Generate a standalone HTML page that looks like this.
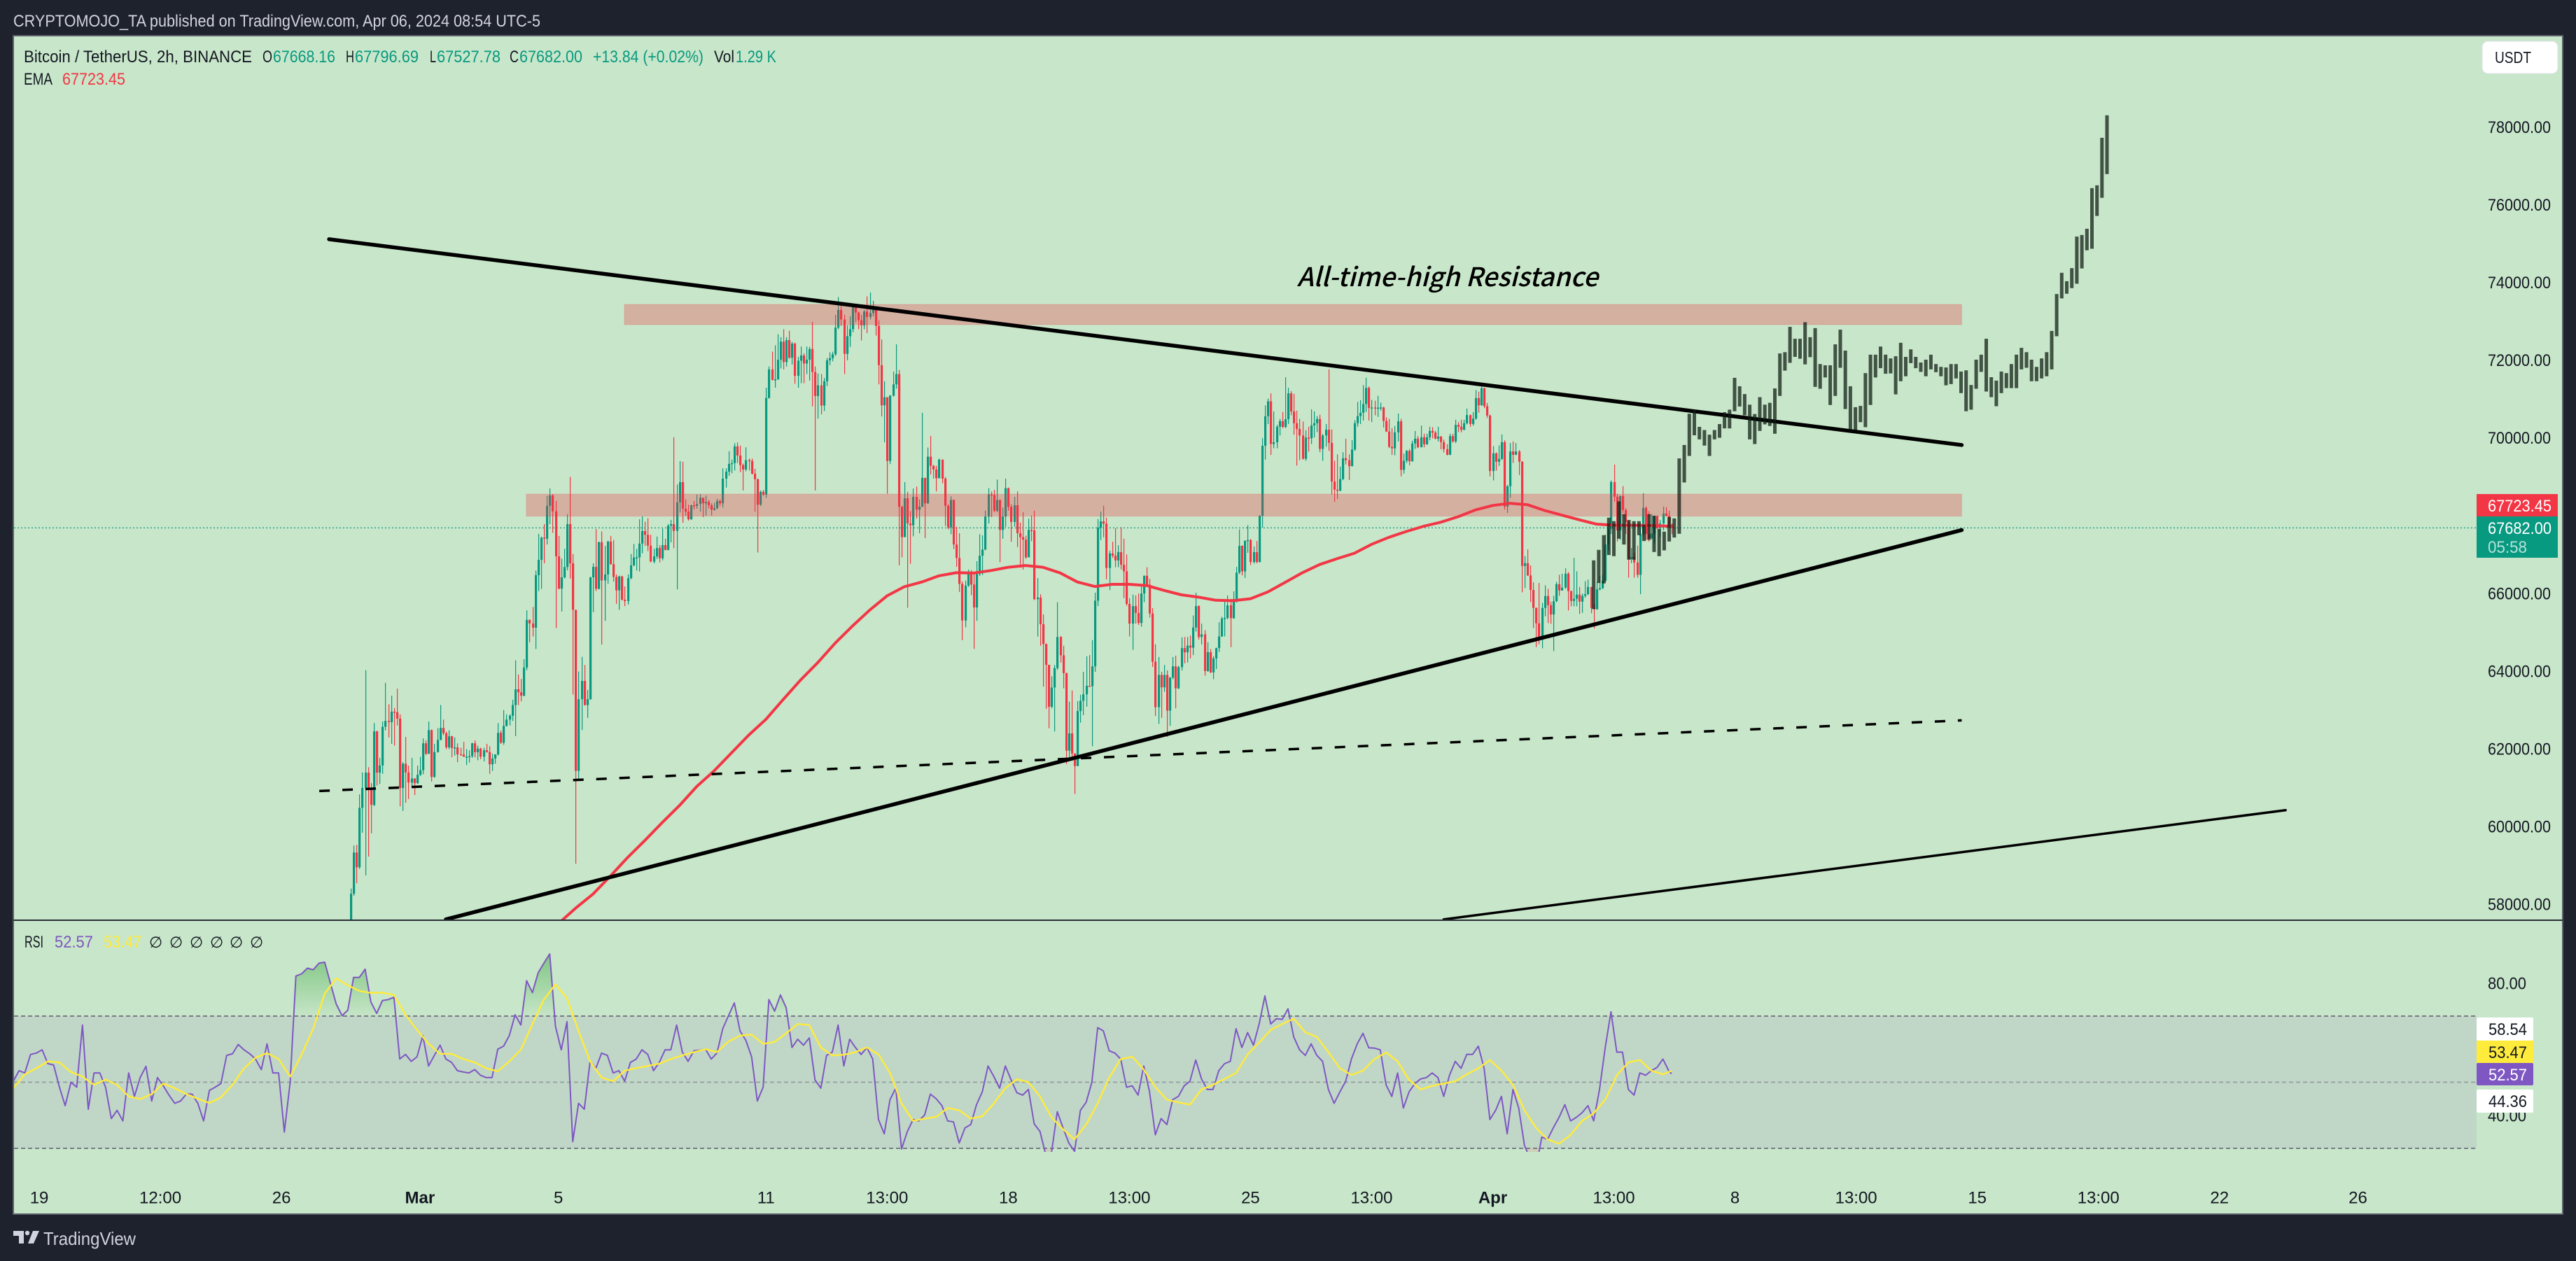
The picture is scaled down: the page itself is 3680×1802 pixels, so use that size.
<!DOCTYPE html>
<html lang="en">
<head>
<meta charset="utf-8">
<title>BTC/USDT 2h chart</title>
<style>
html,body{margin:0;padding:0;background:#1e222d;}
svg{display:block;font-family:"Liberation Sans",sans-serif;}
</style>
</head>
<body>
<svg id="root" xmlns="http://www.w3.org/2000/svg" width="3680" height="1802" viewBox="0 0 3680 1802">
  <defs>
    <clipPath id="pricePane"><rect x="20" y="52" width="3640" height="1263"/></clipPath>
    <clipPath id="rsiPane"><rect x="20" y="1316" width="3640" height="330"/></clipPath>
    <clipPath id="rsiAbove"><rect x="20" y="1316" width="3518" height="136"/></clipPath>
    <clipPath id="rsiBelow"><rect x="20" y="1641" width="3518" height="90"/></clipPath>
    <linearGradient id="obGrad" gradientUnits="userSpaceOnUse" x1="0" y1="1360" x2="0" y2="1452">
      <stop offset="0" stop-color="#4caf50" stop-opacity="0.6"/>
      <stop offset="1" stop-color="#4caf50" stop-opacity="0.02"/>
    </linearGradient>
  </defs>
  <rect width="3680" height="1802" fill="#1e222d"/>
  <text x="19" y="38" font-size="24" fill="#d1d4dc" textLength="753" lengthAdjust="spacingAndGlyphs">CRYPTOMOJO_TA published on TradingView.com, Apr 06, 2024 08:54 UTC-5</text>
  <rect x="19" y="51" width="3642" height="1684" fill="#c8e6c9" stroke="#5d606b" stroke-width="2"/>
  <g id="band"></g>
  <g id="candles" clip-path="url(#pricePane)"></g>
  <g id="ema" clip-path="url(#pricePane)"></g>
  <g id="zones"></g>
  <g id="draw" clip-path="url(#pricePane)"></g>
  <g id="proj" clip-path="url(#pricePane)"></g>
  <g id="rsi" clip-path="url(#rsiPane)"></g>
  <rect x="19" y="1314" width="3642" height="2" fill="#2a2e39"/>
  <text x="1853" y="409" font-size="37" font-weight="500" font-style="italic" fill="#000" font-family="'Noto Sans CJK JP','Liberation Sans',sans-serif" textLength="430" lengthAdjust="spacingAndGlyphs">All-time-high Resistance</text>

  <g font-size="24">
    <text x="34" y="89" fill="#131722" textLength="326" lengthAdjust="spacingAndGlyphs">Bitcoin / TetherUS, 2h, BINANCE</text>
    <text x="375" y="89" fill="#131722" textLength="14" lengthAdjust="spacingAndGlyphs">O</text>
    <text x="390" y="89" fill="#089981" textLength="89" lengthAdjust="spacingAndGlyphs">67668.16</text>
    <text x="494" y="89" fill="#131722" textLength="12" lengthAdjust="spacingAndGlyphs">H</text>
    <text x="507" y="89" fill="#089981" textLength="91" lengthAdjust="spacingAndGlyphs">67796.69</text>
    <text x="614" y="89" fill="#131722" textLength="9" lengthAdjust="spacingAndGlyphs">L</text>
    <text x="624" y="89" fill="#089981" textLength="91" lengthAdjust="spacingAndGlyphs">67527.78</text>
    <text x="728" y="89" fill="#131722" textLength="13" lengthAdjust="spacingAndGlyphs">C</text>
    <text x="742" y="89" fill="#089981" textLength="90" lengthAdjust="spacingAndGlyphs">67682.00</text>
    <text x="847" y="89" fill="#089981" textLength="158" lengthAdjust="spacingAndGlyphs">+13.84 (+0.02%)</text>
    <text x="1020" y="89" fill="#131722" textLength="29" lengthAdjust="spacingAndGlyphs">Vol</text>
    <text x="1051" y="89" fill="#089981" textLength="58" lengthAdjust="spacingAndGlyphs">1.29 K</text>
    <text x="34" y="121" fill="#131722" textLength="41" lengthAdjust="spacingAndGlyphs">EMA</text>
    <text x="89" y="121" fill="#f23645" textLength="90" lengthAdjust="spacingAndGlyphs">67723.45</text>
  </g>

  <g font-size="24">
    <text x="35" y="1354" fill="#131722" textLength="27" lengthAdjust="spacingAndGlyphs">RSI</text>
    <text x="78" y="1354" fill="#7e57c2" textLength="55" lengthAdjust="spacingAndGlyphs">52.57</text>
    <text x="148" y="1354" fill="#ffeb3b" textLength="54" lengthAdjust="spacingAndGlyphs">53.47</text>
    <g fill="#131722" font-size="22" font-family="'DejaVu Sans',sans-serif">
      <text x="213" y="1354">∅</text><text x="242" y="1354">∅</text><text x="271" y="1354">∅</text><text x="300" y="1354">∅</text><text x="328" y="1354">∅</text><text x="357" y="1354">∅</text>
    </g>
  </g>

  <g id="yaxis" font-size="24" fill="#131722"></g>
  <g>
    <rect x="3546" y="59" width="108" height="46" rx="8" fill="#fff" stroke="#e0e3eb"/>
    <text x="3564" y="90" font-size="23" fill="#131722" textLength="52" lengthAdjust="spacingAndGlyphs">USDT</text>
  </g>
  <g>
    <rect x="3538" y="706" width="116" height="32" fill="#f23645"/>
    <text x="3554" y="731" font-size="24" fill="#fff" textLength="91" lengthAdjust="spacingAndGlyphs">67723.45</text>
  </g>
  <g>
    <rect x="3538" y="738" width="116" height="59" fill="#089981"/>
    <text x="3554" y="763" font-size="24" fill="#fff" textLength="91" lengthAdjust="spacingAndGlyphs">67682.00</text>
    <text x="3554" y="790" font-size="24" fill="#fff" fill-opacity="0.7" textLength="56" lengthAdjust="spacingAndGlyphs">05:58</text>
  </g>
  <g font-size="24">
    <rect x="3538" y="1454" width="81" height="33" rx="2" fill="#fff"/>
    <text x="3555" y="1479" fill="#131722" textLength="55" lengthAdjust="spacingAndGlyphs">58.54</text>
    <rect x="3538" y="1487" width="81" height="32" fill="#ffeb3b"/>
    <text x="3555" y="1512" fill="#131722" textLength="55" lengthAdjust="spacingAndGlyphs">53.47</text>
    <rect x="3538" y="1519" width="81" height="32" rx="2" fill="#7e57c2"/>
    <text x="3555" y="1544" fill="#fff" textLength="55" lengthAdjust="spacingAndGlyphs">52.57</text>
    <rect x="3538" y="1557" width="81" height="33" rx="2" fill="#fff"/>
    <text x="3555" y="1582" fill="#131722" textLength="55" lengthAdjust="spacingAndGlyphs">44.36</text>
  </g>
  <g id="xaxis" font-size="24" fill="#131722"></g>
  <g>
    <path d="M19 1759h15v18h-7v-11h-8zM47 1759h9l-8 18h-8z" fill="#d1d4dc"/>
    <circle cx="39" cy="1762" r="3.2" fill="#d1d4dc"/>
    <text x="62" y="1779" font-size="26" fill="#d1d4dc" textLength="132" lengthAdjust="spacingAndGlyphs">TradingView</text>
  </g>
</svg>

<script>
// ---- price pane data (2h bars, open = previous close) ----
var firstOpen = 56500;
var closes = [
58270,59330,58950,60480,60990,61385,60945,60555,62445,61385,
61570,62565,62715,62685,62955,62940,62775,60990,61615,61390,
61130,61235,61115,61330,61450,62140,61870,62480,61275,61915,
62230,62535,62400,62035,62320,62020,62035,61855,61850,61795,
61795,61810,62140,61910,62005,61795,61960,61915,61600,61750,
61855,62410,62155,62590,62750,62850,63125,63530,63455,63365,
64090,65315,65225,65115,66465,66860,67430,67405,68250,68520,
68110,66950,66120,66410,66675,67780,66770,65575,61430,63275,
63745,63125,63275,66410,66680,66115,67315,66330,66485,67330,
66750,66420,66075,66435,65835,65800,66390,66720,66920,66925,
67280,67600,67505,67225,66815,66950,67165,66900,67240,67115,
67740,67780,67605,68340,68860,68175,68100,67905,68265,68250,
68295,68459,
68315,68350,68265,68150,68190,68375,68315,68950,69130,69330,
69350,69780,69545,69300,69185,69425,69405,69075,68935,68280,
68610,68540,71025,71760,71490,71505,72010,72475,71950,72515,
72060,72425,71595,71985,72120,71910,72010,72285,71695,71075,
71350,70830,71455,71995,72050,72150,72835,73290,73045,72160,
72615,72795,73360,73225,73025,72895,73250,73110,73210,73335,
72880,71870,70835,71045,69405,71085,71375,71640,68225,67445,
68445,67795,67750,68480,68150,68230,68970,68315,69515,69280,
69185,68960,69440,68950,68250,67695,68400,67255,66910,66240,
65300,66200,66555,66225,65635,66495,66965,67125,67975,68545,
68530,68125,68400,67630,67975,68705,68225,67835,68265,67545,
67445,67380,66925,67630,67620,65850,65890,65205,64695,64160,
63080,63575,64075,64875,64405,63945,
61950,62395,61880,61555,62970,63235,63400,63620,63610,64120,
65810,67690,67850,67790,66650,67025,66970,66845,67060,66735,
66565,65725,65220,65670,65495,65235,65995,66450,66220,65480,
64240,63070,63900,63580,63900,62980,63830,64120,63555,64100,
64590,64480,64655,64600,65120,65670,64875,64945,64000,64485,
63965,64325,64590,64890,65350,65365,65690,65360,65855,66530,
67220,66565,67355,67370,66805,67060,66805,67995,69795,70555,
70940,69840,69885,70285,70430,70280,70480,71145,70680,70375,
70230,70060,69460,70005,69990,70320,70375,70485,69715,70060,
70210,69870,68875,68665,68640,68940,69475,69425,69270,69700,
70375,70560,70645,70870,71285,70770,70780,70775,70775,70780,
70435,70160,69770,69730,70140,70425,69175,69410,69665,
69397,69853,69979,69757,70015,69835,70015,70177,70135,69979,
70033,69889,69709,69565,70045,69907,70333,70285,70207,70375,
70585,70357,70495,71023,70837,71275,70813,70573,69145,69601,
69385,69457,69889,68233,68755,69649,69565,69649,69385,66703,
66775,66457,66085,65623,65227,64885,65623,65929,65695,65455,
65797,66235,66073,66145,66505,66055,65803,65857,65965,65785,
65935,65977,66163,65623,65593,66103,66133,66325,67255,67657,
68863,68485,67615,68503,68143,67825,66883,66937,66793,66475,
67525,68197,67525,67417,67537,67987,67675,67795,68053,67993,
67765,67682];
var highs = [
58404,59510,59525,60825,61390,64020,61525,61115,62660,62465,
61765,62700,63695,63145,63365,63050,63545,62885,61655,62305,
61565,61765,61245,61565,61795,62265,62215,62700,62495,62125,
62530,63125,62750,62440,62475,62335,62290,62140,62025,62175,
61990,61960,62155,62215,62080,62025,62025,62125,62065,61870,
61855,62660,62470,62995,62885,62885,63260,64275,63910,63795,
64305,65560,65330,65650,66585,67530,67460,67780,68505,68700,
68550,68375,67475,66890,67145,68035,68995,67010,65575,63990,
64365,64155,63515,66425,66770,67650,67330,67590,67220,67355,
67475,67370,66485,66455,66450,66175,66485,67010,67270,67145,
67905,67980,67845,67930,67505,67145,67460,67240,67665,67405,
67780,67890,70015,68800,69400,69385,68415,68280,68280,68375,
68540,68550,
68370,68515,68400,68315,68330,68430,68415,69215,69215,69655,
69440,69860,69880,69800,69340,69755,69465,69465,69200,68950,
68645,68660,71290,71835,72215,72380,72665,72590,72795,72590,
72755,72465,72450,72085,72350,72175,72350,72340,72985,71835,
71655,71640,71540,72050,72200,72215,73165,73620,73475,73165,
72895,73125,73375,73390,73250,73170,73290,73640,73740,73525,
73335,73025,72530,71455,71045,71100,71705,72405,71745,68250,
68860,68610,68115,68695,68745,68415,70645,68970,69750,70050,
69300,69280,69465,69440,68990,68290,68495,68415,67710,67545,
66305,66325,66610,66595,66515,66825,67520,67490,68125,68705,
68620,68660,68925,68415,68205,68950,68720,68290,68480,68620,
67820,68085,67480,67920,68000,68125,66390,65975,65455,64710,
64160,63865,64155,65770,64900,64650,
63960,63210,63500,61880,63225,63390,63980,64380,64410,64795,
66015,67910,68100,68255,67945,67095,67325,67675,67235,67700,
67405,67000,65870,65965,65945,65995,66185,66460,66670,66370,
65620,64685,64360,63980,64155,64015,63845,64360,64395,64135,
64865,64875,64875,64910,65430,66015,65690,65220,65050,64740,
64565,64380,64600,65255,65395,65830,65945,65855,66050,66680,
67645,67235,67355,67750,67395,67205,67345,68010,69990,70835,
71010,71145,70680,70335,70490,70665,71560,71285,71200,71130,
70700,70490,70420,70195,70285,70735,70680,70560,70595,70100,
70355,71765,70215,69410,69575,69260,69630,69975,69575,69940,
70455,70925,70970,71355,71545,71320,70975,70955,71080,70905,
70800,70525,70490,70250,70305,70625,70490,69595,69685,
69709,69925,70177,70045,70315,70105,70105,70285,70273,70177,
70285,70045,69955,69835,70105,70105,70465,70405,70465,70465,
70753,70597,70663,71227,71185,71365,71287,70897,70597,69787,
69625,69805,70087,69937,68785,69865,69907,69865,69685,69403,
66955,67129,66715,66283,65635,66265,65755,66205,66115,65785,
65935,66295,66475,66505,66643,66547,66073,66913,66565,66163,
65995,66313,66355,66163,65725,66295,66457,66475,67507,67735,
68905,69313,68557,68515,68755,68185,67885,67165,67045,67225,
67705,68575,68233,68113,68035,68005,68005,67885,68233,68215,
68125,67796];
var lows = [
56700,58220,58540,58910,59840,58740,59225,59825,60525,61055,
61095,61355,62475,62290,62125,62080,62600,60520,60400,60610,
60705,61035,60810,61095,61300,61345,61840,61870,61155,61255,
61900,62215,62350,61990,61990,61780,61825,61655,61825,61795,
61580,61645,61765,61780,61705,61730,61675,61900,61355,61430,
61615,61825,62125,62100,62570,62600,62715,62325,63125,63220,
63350,64020,64740,64890,64565,66060,66115,66770,67255,67780,
67555,65105,66100,65530,66380,66590,66380,63395,59040,61185,
62480,63110,62795,63260,65515,66060,66100,64680,65290,66245,
66735,66300,65725,65575,65815,65670,65710,66360,66695,66585,
66560,67030,67220,67085,66800,66770,66885,66795,66845,67105,
67105,67310,67160,66100,68080,67815,67995,67870,67890,68155,
68175,68100,
67960,68000,68180,68000,68125,68165,68250,68205,68720,69025,
69090,69160,69350,69115,68645,69140,69160,69060,68100,67050,
68250,68510,68455,71010,71475,71290,71490,71785,71760,71835,
72035,71885,71390,71290,71405,71405,71640,71475,70810,68645,
70495,70605,70690,71330,71870,71970,72110,72795,72880,71640,
71995,72340,72715,72975,72795,72505,72795,72695,73045,73125,
72630,71375,70550,69885,68560,69325,71060,71265,66720,66925,
67445,65630,66760,67465,67920,67545,68215,67420,68300,69055,
68950,68620,68960,68830,67735,67645,67520,67135,66680,66035,
64795,65125,66165,65950,64570,65290,66445,66470,67110,67795,
67960,68085,68085,66800,67405,67710,68125,67325,67710,67190,
66660,66610,66885,66925,67340,65825,64885,64650,63600,63025,
62530,63040,62445,64030,64215,63555,
61605,61775,61705,60835,61555,62670,62865,63085,63600,62065,
63980,65670,67370,67440,66360,66080,66910,66670,66670,66615,
65875,65680,64890,64545,65220,65185,65140,65770,66185,65375,
64105,62845,62640,62795,63465,62305,62590,63790,63040,63535,
64015,64200,64220,64325,64410,65015,64810,64685,63880,63980,
63945,63790,64050,64490,64880,64890,65330,64615,65345,65760,
66495,66460,66395,67040,66725,66765,66770,66795,67690,69440,
70355,69560,69730,69730,70060,70250,70250,70355,70580,70080,
69285,69425,69440,69410,69645,69840,70010,70150,69630,69410,
69770,69665,68545,68355,68425,68625,68910,69315,68915,69270,
69665,70285,70355,70445,70665,70445,70405,70580,70540,70700,
70265,70150,69735,69560,69550,69905,69010,69080,69355,
69295,69385,69715,69733,69757,69757,69817,69937,69985,69961,
69907,69703,69625,69547,69553,69877,69865,70147,70141,70195,
70345,70285,70315,70465,70645,70825,70765,70513,69007,68905,
69157,69277,69433,68155,68065,68455,69355,69553,69043,66025,
66133,66445,65773,65107,64615,64687,64585,65407,65233,65215,
64513,65773,65935,66067,66115,65557,65665,65665,65665,65467,
65497,65887,65953,65485,65095,65575,66073,66109,66277,67105,
67525,68353,67333,67375,68065,67525,66403,66775,66403,66403,
65977,67465,67375,67333,67393,67285,67657,67453,67615,67975,
67705,67527];

// EMA sampled every 6 bars, starting at bar 72
var emaFirstBar = 72;
var emaStepBars = 6;
var emaValues = [57500,57900,58260,58720,59200,59640,60100,60540,61030,61430,61890,62350,62760,63270,63770,64220,64720,65160,65570,65935,66170,66290,66450,66530,66520,66585,66670,66715,66670,66525,66290,66175,66230,66230,66200,66075,65960,65900,65820,65810,65860,66035,66280,66530,66740,66890,67030,67260,67440,67590,67723,67830,67970,68145,68260,68315,68280,68130,68010,67890,67780,67753,67750,67745,67730,67723.45];

// Projected bars pattern (high / low)
var projFirstBar = 431;
var projStepBars = 1.745;
var projHighs = [66847,67117,67495,67945,67855,68365,68035,67885,67855,67855,67765,68035,67993,67657,67585,67963,67927,
69470,69816,70620,70724,70282,70201,70081,70201,70354,70660,70724,71544,71327,71126,70853,70612,71046,70853,70901,71271,72171,72204,72855,72549,72549,72975,72589,72823,71898,71866,71866,72405,72783,72244,71327,70788,70821,71665,72139,72139,72348,72139,72043,72099,72445,72083,72276,72083,71938,72011,72139,71898,71826,71810,71898,71898,71705,71737,71359,72011,72139,72549,71560,71472,71705,71665,71898,72139,72316,72204,72011,71826,72043,72204,72750,73699,74246,74029,74366,75178,75219,75379,76425,76497,77719,78298];
var projLows = [65593,66265,66253,66985,66955,67405,67255,66865,66865,67495,67345,67375,67063,66955,67105,67333,67435,
67532,68851,69534,70065,69960,69800,69534,69960,70001,70242,70242,70684,70805,70580,69960,69840,70178,70346,70306,70105,71078,71729,71930,72083,72035,71890,72075,71311,71263,71553,70845,71078,71802,70740,70202,70202,70403,70274,70845,71553,71793,71649,71657,71118,71456,71584,71922,71793,71697,71584,71761,71689,71584,71351,71383,71528,71150,70684,70724,71263,71697,71191,71046,70813,71150,71279,71279,71279,71761,71802,71456,71456,71528,71584,71761,72614,73587,73707,73852,73964,74358,74825,74865,75709,76175,76786];

// Trend lines: [bar, price, bar, price]
var lineDownTrend = [-7.5,75110,558.6,69815];
var lineUpTrend = [33,57610,558.6,67627];
var lineDashed = [-10.9,60913,558.6,62730];
var lineLowerChannel = [379,57610,670.9,60420];
var zoneUpper = [94.9,73433,558.6,72911];
var zoneLower = [60.9,68553,558.6,67984];

// RSI (sampled every 2 bars) and its MA (every 4 bars), starting at bar -117
var rsiFirstBar = -117;
var rsiStepBars = 2;
var maStepBars = 4;
var rsiValues = [
50.3,53.5,52.8,58.4,58.8,59.8,55.6,55.2,48.5,42.9,50,48.5,67.3,41.8,52.8,52.8,48.5,39,41.5,38.3,
52.8,45.7,51.4,54.8,44.3,51.4,48.9,46.1,43.6,44.3,46.4,46.4,43.6,38.3,47.5,48.5,49.6,58.1,58.6,61.4,
59.8,58.6,57,53.8,61.6,52.8,52.8,34.9,50,82.1,82.8,84.5,84,86,86.3,79.8,73.6,70.1,71.8,81.7,
81.7,84.2,74.3,70.8,74.7,75,75.7,57,58.4,56.3,57.7,64.1,54.9,58.1,61.2,57,56,53.5,53.1,52.8,
53.8,52.1,51.4,51.4,60,60.9,64.1,70.4,67.3,80.7,77.1,83.1,86,88.8,66.9,59.8,68.3,32,43.6,41.8,
56.3,54.2,58.8,58.1,52.8,53.5,50.3,56,57,59.8,58.4,53.5,56,59.8,59.8,67.3,59.1,56.3,59.5,59.7,
60,57,58.8,66.2,70.1,74,65.5,62.7,57.7,44.3,48.5,75,71.5,76.4,72.5,60.5,63,61.2,63.4,50.7,
48.2,58.1,59.1,67.3,54.9,63,60.5,58.4,60.5,57,
38.7,34.4,44.7,48.2,29.8,35.1,38.7,38.3,40.1,46.4,45,42.9,38.3,38,31.6,36.2,37.2,43.2,47.1,54.9,
51.7,48.2,54.9,50.7,46.8,46.1,47.8,37.4,35.1,28.1,28.8,41.1,36.2,31.6,29.1,41.5,43.9,50,66.5,65.5,
59.5,58.8,57,48.5,48.9,46.1,54.9,47.1,34.1,39,37.2,44.7,45.7,48.9,50.3,56.7,51,47.8,47.8,53.5,
55.6,56.3,66.2,60.5,65,61.2,67.6,76.1,67.6,69.2,69,72.2,63.7,59.8,58.1,61.6,58.1,56.3,47.8,43.6,
47.1,50.3,57,61.6,64.8,60.4,60.3,59.8,49.2,45.7,52.8,42.2,47.1,49.6,51,51.4,52.8,51.4,45.7,52.1,
56.3,54.2,58.4,58.4,60.9,54.2,38.7,41.5,45.7,34.4,47.8,42.2,30.9,26.7,24.2,33.4,32.7,36.2,39.4,43.2,
38.3,39.4,40.8,42.9,38.3,47.8,60.5,71.3,59.1,59.1,47.8,46.1,52.8,52.1,53.5,54.5,57,53.5,52.57];
var rsiMaValues = [
48.2,52.4,54.2,56.3,56,53.1,51.7,49.2,50.8,49.2,45.7,44.9,46.4,49.6,48.2,46.4,45,43.7,45.4,49.2,
54.2,57.4,58.8,57,51.7,58.4,66.2,76.8,81.4,79.3,77.6,77,77.1,76.4,70.4,65.8,61.6,58.6,58.6,57,
56,54.2,53.3,56.3,59.8,67.6,75,79.6,75.4,65.5,56.3,51.4,50.3,53.5,54.3,54.9,55.6,57,58.1,59.1,
60,59.1,62.3,64.1,64.4,61.6,62.2,64.8,67.6,67.3,60.5,58.1,58.3,59.1,60.5,
58.4,52.8,43.6,38.3,39,39.5,42.2,41.5,39,39.7,43.6,48.2,50.9,50,45.7,39.4,35.8,32.7,37.2,43.6,
51.4,57,57.7,53.8,48.5,44.7,43.9,43.2,47.8,49.2,51,52.8,58.4,62,65.8,67.6,69.2,65.1,63.7,59.1,
54.2,52.2,53.5,57,59,56.3,50.7,47.8,48.9,49.6,50.3,52.4,54.2,56.7,53.5,49.2,41.5,36.2,32.7,31.4,
34.1,38.3,40.6,44.7,52.1,56,56.7,53.5,52.4,53.47];

// Axis labels
var priceTicks = [78000,76000,74000,72000,70000,68000,66000,64000,62000,60000,58000];
var rsiTicks = [80,40];
var rsiLevels = [70,50,30];
var timeLabels = ["19","12:00","26","Mar","5","11","13:00","18","13:00","25","13:00","Apr","13:00","8","13:00","15","13:00","22","26"];
var timeLabelBars = [-108,-66,-24,24,72,144,186,228,270,312,354,396,438,480,522,564,606,648,696];
var lastPrice = 67682;

// ---- axis functions ----
var NS = 'http://www.w3.org/2000/svg';
function xOf(bar){ return 501 + bar * 4.12; }
function yPrice(p){ return 754.4 + (lastPrice - p) * 0.05554; }
function yRsi(r){ return 1546.5 - (r - 50) * 4.725; }
function mk(tag, attrs, parent){
  var el = document.createElementNS(NS, tag);
  for (var k in attrs) el.setAttribute(k, attrs[k]);
  parent.appendChild(el);
  return el;
}
var gBand = document.getElementById('band');
var gCandles = document.getElementById('candles');
var gEma = document.getElementById('ema');
var gZones = document.getElementById('zones');
var gDraw = document.getElementById('draw');
var gProj = document.getElementById('proj');
var gRsi = document.getElementById('rsi');
var gY = document.getElementById('yaxis');
var gX = document.getElementById('xaxis');

// RSI band
var band = mk('rect', {x:20, y:yRsi(70), width:3518, height:yRsi(30)-yRsi(70), fill:'#7e57c2', 'fill-opacity':0.1}, gBand);


rsiLevels.forEach(function(l){
  var ln = mk('line', {x1:20, x2:3538, y1:yRsi(l), y2:yRsi(l), stroke:'#787b86', 'stroke-width':2, 'stroke-dasharray':'6 4', 'stroke-opacity': l===50 ? 0.55 : 1}, gBand);
  
  
});

// Last price line
var pl = mk('line', {x1:20, x2:3538, y1:yPrice(lastPrice), y2:yPrice(lastPrice), stroke:'#089981', 'stroke-width':1.2, 'stroke-dasharray':'2 3'}, gBand);



// Candles
closes.forEach(function(c, i){
  var o = i === 0 ? firstOpen : closes[i-1];
  var up = c >= o;
  var col = up ? '#089981' : '#f23645';
  var x = Math.round(xOf(i));
  var w = mk('rect', {x:x, y:yPrice(highs[i]), width:1.2, height:Math.max(1, yPrice(lows[i])-yPrice(highs[i])), fill:col}, gCandles);
  
  
  var top = Math.max(o, c), bot = Math.min(o, c);
  var b = mk('rect', {x:x-1, y:yPrice(top), width:3.2, height:Math.max(1.5, yPrice(bot)-yPrice(top)), fill:col}, gCandles);
  
  
});

// EMA
function polyPts(vals, first, step, yFn, lastBar){
  return vals.map(function(v, k){
    var bar = Math.min(first + step * k, lastBar);
    return xOf(bar).toFixed(1) + ',' + yFn(v).toFixed(1);
  });
}
var emaLine = mk('polyline', {points:polyPts(emaValues, emaFirstBar, emaStepBars, yPrice, 458).join(' '), fill:'none', stroke:'#f23645', 'stroke-width':4, 'stroke-linejoin':'round', 'stroke-linecap':'round'}, gEma);



// Zones
function zone(z, nm){
  var r = mk('rect', {x:xOf(z[0]), y:yPrice(z[1]), width:xOf(z[2])-xOf(z[0]), height:yPrice(z[3])-yPrice(z[1]), fill:'#f23645', 'fill-opacity':0.3, stroke:'#f23645', 'stroke-opacity':0.12, 'stroke-width':1.5}, gZones);
  
  
}
zone(zoneUpper, 'resistance-zone-upper');
zone(zoneLower, 'resistance-zone-lower');

// Trend lines
function trend(l, w, dash, nm){
  var a = {x1:xOf(l[0]), y1:yPrice(l[1]), x2:xOf(l[2]), y2:yPrice(l[3]), stroke:'#000', 'stroke-width':w, 'stroke-linecap': dash ? 'butt' : 'round'};
  if (dash) a['stroke-dasharray'] = dash;
  var el = mk('line', a, gDraw);
  
  
}
trend(lineDownTrend, 5.5, null, 'descending-trend-line');
trend(lineUpTrend, 5.5, null, 'ascending-trend-line');
trend(lineDashed, 3.5, '15 18', 'dashed-mid-line');
trend(lineLowerChannel, 3.5, null, 'lower-channel-line');

// Projected bars
projHighs.forEach(function(h, j){
  var x = xOf(projFirstBar + j * projStepBars);
  var r = mk('rect', {x:(x-2.5).toFixed(1), y:yPrice(h), width:5, height:yPrice(projLows[j])-yPrice(h), fill:'#0d1a10', 'fill-opacity':0.72}, gProj);
  
  
});

// RSI fills + lines
var rsiPts = polyPts(rsiValues, rsiFirstBar, rsiStepBars, yRsi, 458);
var firstX = rsiPts[0].split(',')[0], lastX = rsiPts[rsiPts.length-1].split(',')[0];
var ob = mk('path', {d:'M' + firstX + ',' + yRsi(70) + ' L' + rsiPts.join(' L') + ' L' + lastX + ',' + yRsi(70) + ' Z', fill:'url(#obGrad)', 'clip-path':'url(#rsiAbove)'}, gRsi);


var os = mk('path', {d:'M' + firstX + ',' + yRsi(30) + ' L' + rsiPts.join(' L') + ' L' + lastX + ',' + yRsi(30) + ' Z', fill:'#f23645', 'fill-opacity':0.12, 'clip-path':'url(#rsiBelow)'}, gRsi);


var rl = mk('polyline', {points:rsiPts.join(' '), fill:'none', stroke:'#7e57c2', 'stroke-width':2, 'stroke-linejoin':'round'}, gRsi);


var ml = mk('polyline', {points:polyPts(rsiMaValues, rsiFirstBar, maStepBars, yRsi, 458).join(' '), fill:'none', stroke:'#ffeb3b', 'stroke-width':2.4, 'stroke-linejoin':'round'}, gRsi);



// Y-axis labels
priceTicks.forEach(function(p){
  if (p === 68000) return;
  var t = mk('text', {x:3554, y:yPrice(p)+8.5, textLength:90, lengthAdjust:'spacingAndGlyphs'}, gY);
  t.textContent = p.toFixed(2);
  
  
});
rsiTicks.forEach(function(r){
  var t = mk('text', {x:3554, y:yRsi(r)+8.5, textLength:55, lengthAdjust:'spacingAndGlyphs'}, gBand);
  t.setAttribute('font-size', '24');
  t.setAttribute('fill', '#131722');
  t.textContent = r.toFixed(2);
  
  
});

// X-axis labels
timeLabels.forEach(function(s, i){
  var t = mk('text', {x:xOf(timeLabelBars[i]), y:1719.5, 'text-anchor':'middle'}, gX);
  if (s === 'Mar' || s === 'Apr') t.setAttribute('font-weight', '700');
  t.textContent = s;
  
  
});
</script>
</body>
</html>
